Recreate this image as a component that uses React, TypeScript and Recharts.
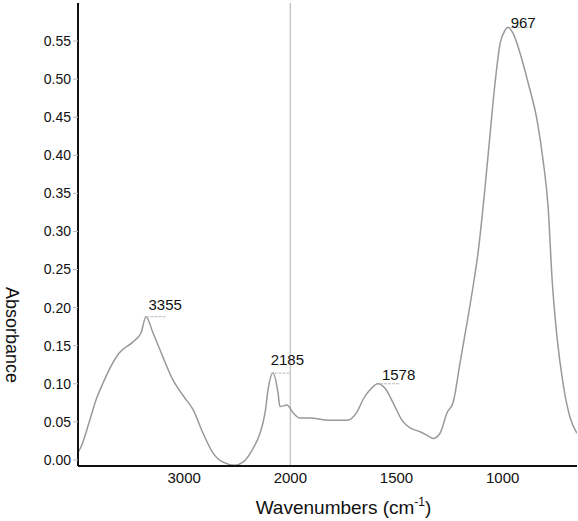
import { ComposedChart, Line, Scatter, XAxis, YAxis, ReferenceLine } from 'recharts';

// spectrum (cm-1 / absorbance)
const wavenumbers = [
  4000, 3972, 3896, 3830, 3764, 3708, 3614, 3482, 3406, 3360, 3294, 3200, 3106, 3002,
  2916, 2822, 2728, 2634, 2522, 2446, 2360, 2286, 2238, 2210, 2164, 2116, 2098, 2032,
  1987, 1954, 1907, 1813, 1733, 1686, 1658, 1625, 1587, 1554, 1516, 1474, 1436, 1389,
  1342, 1328, 1295, 1262, 1234, 1201, 1168, 1140, 1116, 1083, 1059, 1036, 1012, 989,
  975, 951, 918, 880, 838, 810, 786, 767, 744, 716, 683, 650,
];
const absorbance = [
  0.010, 0.017, 0.049, 0.079, 0.101, 0.118, 0.140, 0.155, 0.167, 0.188, 0.167, 0.135, 0.105, 0.083,
  0.066, 0.035, 0.009, -0.003, -0.007, -0.003, 0.013, 0.035, 0.062, 0.092, 0.114, 0.088, 0.070, 0.072,
  0.062, 0.055, 0.055, 0.052, 0.052, 0.063, 0.079, 0.092, 0.100, 0.094, 0.075, 0.052, 0.042, 0.037,
  0.030, 0.028, 0.035, 0.062, 0.075, 0.127, 0.180, 0.227, 0.272, 0.358, 0.429, 0.495, 0.547, 0.564,
  0.568, 0.560, 0.534, 0.495, 0.446, 0.394, 0.332, 0.236, 0.161, 0.101, 0.056, 0.035,
];

const peakPositions = [3355, 2185, 1578, 967];
const peakHeights = [0.188, 0.114, 0.1, 0.568];
const peakLabels = ['3355', '2185', '1578', '967'];
const labelNudge = [[2, -7], [0, -8], [2, -4], [1, 1]];

const xTicks = [3000, 2000, 1500, 1000];
const yTicks = [0, 0.05, 0.1, 0.15, 0.2, 0.25, 0.3, 0.35, 0.4, 0.45, 0.5, 0.55];

// the axis is squeezed 2:1 above 2000 cm-1
const toAxis = (wn: number) => (wn > 2000 ? 2000 + (wn - 2000) / 2 : wn);
const fromAxis = (u: number) => (u > 2000 ? 2000 + (u - 2000) * 2 : u);

const spectrum = wavenumbers.map((wn, i) => ({ u: toAxis(wn), a: absorbance[i] }));
const peaks = peakPositions.map((wn, i) => ({
  u: toAxis(wn),
  a: peakHeights[i],
  label: peakLabels[i],
  nudge: labelNudge[i],
}));

const FONT = 'Arial, "Liberation Sans", sans-serif';

const PeakMark = (props: any) => {
  const { cx, cy, payload } = props;
  return (
    <g>
      <line x1={cx} x2={cx + 20} y1={cy} y2={cy} stroke="#bbb" strokeWidth={1} strokeDasharray="3 1" />
      <text x={cx + payload.nudge[0]} y={cy + payload.nudge[1]} fontSize={15} fontFamily={FONT} fill="#111">
        {payload.label}
      </text>
    </g>
  );
};

const XTitle = (props: any) => {
  const { viewBox } = props;
  const cx = viewBox.x + viewBox.width / 2 + 16;
  return (
    <text x={cx} y={514} textAnchor="middle" fontSize={19} fontFamily={FONT} fill="#111">
      Wavenumbers (cm
      <tspan fontSize={12} dy={-8}>-1</tspan>
      <tspan dy={8}>)</tspan>
    </text>
  );
};

const YTitle = () => (
  <text x={12} y={335} textAnchor="middle" fontSize={18} fontFamily={FONT} fill="#111" transform="rotate(90 12 335)" dy="0.35em">
    Absorbance
  </text>
);

export default function App() {
  return (
    <div style={{ position: 'absolute', left: 0, top: 0, background: '#fff' }}>
      <ComposedChart width={578} height={521} margin={{ top: 3, right: 1, left: 0, bottom: 0 }}>
        <XAxis
          type="number"
          dataKey="u"
          domain={[650, 3000]}
          reversed
          ticks={xTicks.map(toAxis)}
          tickFormatter={(v: number) => String(Math.round(fromAxis(v)))}
          tickLine={false}
          tickSize={4}
          tickMargin={2}
          axisLine={{ stroke: '#111', strokeWidth: 2 }}
          tick={{ fill: '#111', fontSize: 15, fontFamily: FONT }}
          height={55}
          allowDataOverflow
          label={<XTitle />}
        />
        <XAxis
          xAxisId="top"
          orientation="top"
          type="number"
          domain={[650, 3000]}
          reversed
          tick={false}
          tickLine={false}
          height={0}
          axisLine={{ stroke: '#222', strokeWidth: 1.5 }}
        />
        <YAxis
          type="number"
          domain={[-0.008, 0.6]}
          ticks={yTicks}
          tickFormatter={(v: number) => v.toFixed(2)}
          tickSize={5}
          tickMargin={2}
          tickLine={{ stroke: '#bbb' }}
          axisLine={{ stroke: '#111', strokeWidth: 2 }}
          tick={{ fill: '#111', fontSize: 14, fontFamily: FONT }}
          width={78}
          allowDataOverflow
          label={<YTitle />}
        />
        <YAxis
          yAxisId="right"
          orientation="right"
          type="number"
          domain={[-0.008, 0.6]}
          tick={false}
          tickLine={false}
          width={0}
          axisLine={{ stroke: '#222', strokeWidth: 1.5 }}
        />
        <ReferenceLine x={toAxis(2000)} stroke="#c8c8c8" strokeWidth={1.5} />
        <Line
          data={spectrum}
          dataKey="a"
          type="monotone"
          stroke="#999"
          strokeWidth={1.5}
          dot={false}
          isAnimationActive={false}
        />
        <Scatter data={peaks} dataKey="a" shape={<PeakMark />} isAnimationActive={false} />
      </ComposedChart>
    </div>
  );
}
